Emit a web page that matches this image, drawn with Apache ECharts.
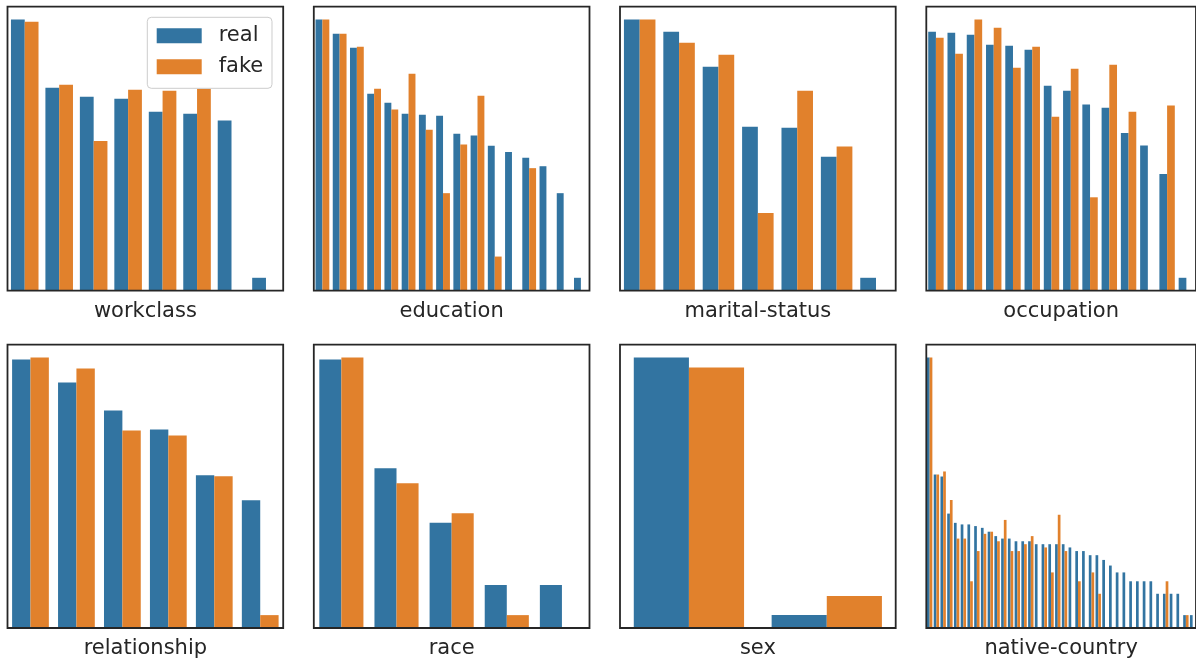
<!DOCTYPE html>
<html>
<head>
<meta charset="utf-8">
<script src="https://cdn.jsdelivr.net/npm/echarts@6/dist/echarts.min.js"></script>
<style>
  html, body { margin: 0; padding: 0; background: #ffffff; }
  #chart { width: 1196px; height: 660px; }
</style>
</head>
<body>
<div id="chart"></div>
<script>
// Category counts per feature, real vs. fake samples (log-scaled bars).
const workclassCats = ['Private', 'Self-emp-not-inc', 'Local-gov', 'State-gov', 'Self-emp-inc', 'Federal-gov', 'Without-pay', 'Never-worked'];
const workclassReal = [3350, 394, 297, 279, 185, 174, 140, 1];
const workclassFake = [3137, 433, 74, 370, 358, 382, null, null];

const educationCats = ['HS-grad', 'Some-college', 'Bachelors', 'Masters', 'Assoc-voc', '11th', 'Assoc-acdm', '10th', '7th-8th', 'Prof-school', '9th', '12th', 'Doctorate', '5th-6th', '1st-4th', 'Preschool'];
const educationReal = [1500, 1068, 763, 252, 203, 156, 152, 148, 96, 92, 72, 62, 54, 44, 23, 3];
const educationFake = [1500, 1068, 781, 284, 172, 408, 106, 23, 74, 240, 5, null, 42, null, null, null];

const maritalCats = ['Married-civ-spouse', 'Never-married', 'Divorced', 'Separated', 'Widowed', 'Married-spouse-absent', 'Married-AF-spouse'];
const maritalReal = [2360, 1640, 572, 94, 91, 38, 1];
const maritalFake = [2360, 1178, 821, 7, 278, 52, null];

const occupationCats = ['Prof-specialty', 'Craft-repair', 'Exec-managerial', 'Adm-clerical', 'Sales', 'Other-service', 'Machine-op-inspct', 'Transport-moving', 'Handlers-cleaners', 'Farming-fishing', 'Tech-support', 'Protective-serv', 'Priv-house-serv', 'Armed-Forces'];
const occupationReal = [827, 805, 762, 580, 564, 506, 189, 165, 113, 104, 52, 37, 17, 1];
const occupationFake = [702, 454, 1150, 922, 309, 549, 81, 301, 9, 336, 93, null, 110, null];

const relationshipCats = ['Husband', 'Not-in-family', 'Own-child', 'Unmarried', 'Wife', 'Other-relative'];
const relationshipReal = [2541, 1257, 534, 298, 73, 34];
const relationshipFake = [2700, 1929, 289, 248, 71, 1];

const raceCats = ['White', 'Black', 'Asian-Pac-Islander', 'Amer-Indian-Eskimo', 'Other'];
const raceReal = [4661, 172, 33, 5, 5];
const raceFake = [4950, 109, 44, 2, null];

const sexCats = ['Male', 'Female'];
const sexReal = [3200, 1600];
const sexFake = [3116, 1685];

const countryCats = ['United-States', 'Mexico', 'Philippines', 'Germany', 'Canada', 'Puerto-Rico', 'El-Salvador', 'India', 'Cuba', 'England',
  'Jamaica', 'South', 'China', 'Italy', 'Dominican-Republic', 'Vietnam', 'Guatemala', 'Japan', 'Poland', 'Columbia',
  'Taiwan', 'Haiti', 'Iran', 'Portugal', 'Nicaragua', 'Peru', 'France', 'Greece', 'Ecuador', 'Ireland',
  'Hong', 'Cambodia', 'Trinadad&Tobago', 'Laos', 'Thailand', 'Yugoslavia', 'Outlying-US(Guam-USVI-etc)', 'Honduras', 'Hungary', 'Scotland'];
const countryReal = [4276, 96, 90, 27, 20, 19, 19, 18, 17, 15, 13, 12, 12, 11, 11, 11, 10, 10, 10, 10,
  10, 9, 8, 8, 7, 7, 6, 5, 4, 4, 3, 3, 3, 3, 2, 2, 2, 2, 1, 1];
const countryFake = [4276, 96, 106, 42, 12, 12, 3, 8, 14, 15, 11, 22, 8, 8, 10, 13, null, 9, 4, 26,
  8, null, 3, null, 4, 2, null, null, null, null, null, null, null, null, null, 3, null, null, 1, null];

const seriesNames = ['real', 'fake'];

const panels = [
  { title: 'workclass', cats: workclassCats, real: workclassReal, fake: workclassFake },
  { title: 'education', cats: educationCats, real: educationReal, fake: educationFake },
  { title: 'marital-status', cats: maritalCats, real: maritalReal, fake: maritalFake },
  { title: 'occupation', cats: occupationCats, real: occupationReal, fake: occupationFake },
  { title: 'relationship', cats: relationshipCats, real: relationshipReal, fake: relationshipFake },
  { title: 'race', cats: raceCats, real: raceReal, fake: raceFake },
  { title: 'sex', cats: sexCats, real: sexReal, fake: sexFake },
  { title: 'native-country', cats: countryCats, real: countryReal, fake: countryFake }
];

const FONT = 'DejaVu Sans';
const TEXT = '#262626';
const BLUE = '#3274a1';
const ORANGE = '#e1812c';

// Panel frames (pixels)
const colLeft = [7.5, 313.8, 620, 926.3];
const rowTop = [6.7, 344.7];
const panelW = 275.7;
const panelH = 284;

// Log extent with a 5% margin on each side (in log space)
function logExtent(a, b) {
  const vals = a.concat(b).filter(v => v != null && v > 0);
  const lo = Math.min.apply(null, vals);
  const hi = Math.max.apply(null, vals);
  const pad = Math.pow(hi / lo, 0.05);
  return [lo / pad, hi * pad];
}

const grid = [], xAxis = [], yAxis = [], series = [];
panels.forEach((p, i) => {
  const col = i % 4, row = Math.floor(i / 4);
  grid.push({
    left: colLeft[col], top: rowTop[row], width: panelW, height: panelH,
    show: true, borderColor: TEXT, borderWidth: 1.8, backgroundColor: 'transparent', z: 5
  });
  xAxis.push({
    type: 'category', gridIndex: i, data: p.cats,
    name: p.title, nameLocation: 'middle', nameGap: 10,
    nameTextStyle: { fontFamily: FONT, fontSize: 21, color: TEXT, verticalAlign: 'top' },
    axisLine: { show: false }, axisTick: { show: false }, axisLabel: { show: false },
    splitLine: { show: false }
  });
  const ext = logExtent(p.real, p.fake);
  yAxis.push({
    type: 'log', logBase: 10, gridIndex: i, min: ext[0], max: ext[1], startValue: ext[0],
    axisLine: { show: false }, axisTick: { show: false }, axisLabel: { show: false },
    splitLine: { show: false }, minorSplitLine: { show: false }
  });
  [p.real, p.fake].forEach((vals, k) => {
    series.push({
      type: 'bar', name: seriesNames[k], xAxisIndex: i, yAxisIndex: i,
      data: vals, barGap: '0%', barCategoryGap: '20%',
      itemStyle: { color: k === 0 ? BLUE : ORANGE },
      emphasis: { disabled: true }, silent: true
    });
  });
});

const chart = echarts.init(document.getElementById('chart'), null, { renderer: 'canvas' });
chart.setOption({
  animation: false,
  backgroundColor: '#ffffff',
  textStyle: { fontFamily: FONT },
  legend: {
    data: seriesNames, orient: 'vertical', left: 147.3, top: 17.3,
    icon: 'rect', itemWidth: 45, itemHeight: 15, itemGap: 10,
    padding: [8, 8.7, 11, 9.4],
    backgroundColor: 'rgba(255,255,255,0.8)', borderColor: '#cccccc', borderWidth: 1, borderRadius: 4,
    textStyle: { fontFamily: FONT, fontSize: 21, color: TEXT, padding: [0, 0, 0, 12] },
    selectedMode: false
  },
  grid: grid, xAxis: xAxis, yAxis: yAxis, series: series
});
</script>
</body>
</html>
